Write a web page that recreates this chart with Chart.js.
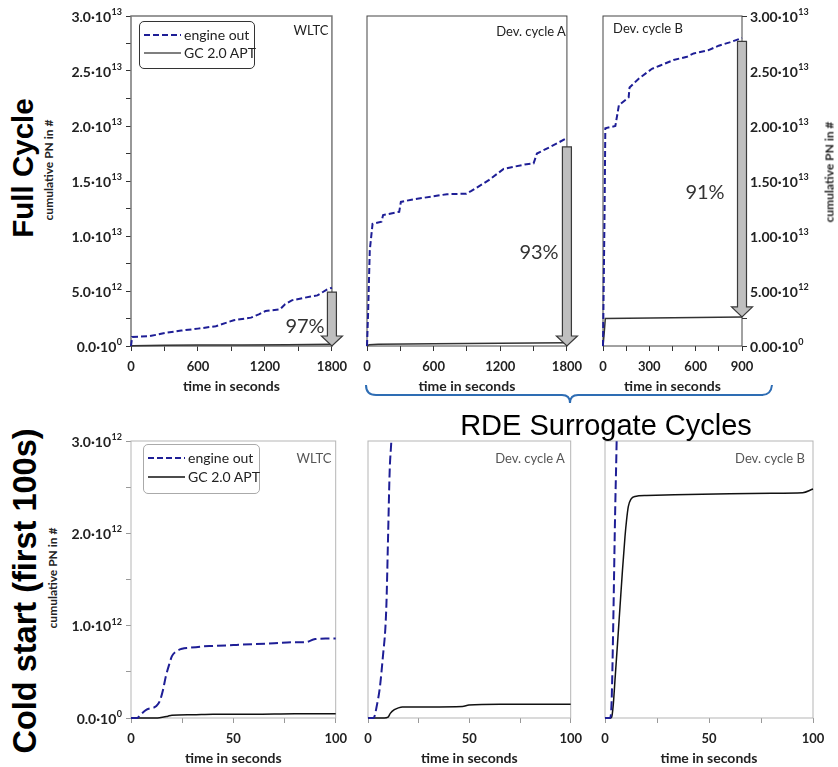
<!DOCTYPE html>
<html>
<head>
<meta charset="utf-8">
<script src="https://cdn.jsdelivr.net/npm/chart.js@4/dist/chart.umd.min.js"></script>
<style>
  body { margin: 0; background: #fff; width: 838px; height: 767px; position: relative; overflow: hidden;
         font-family: Lato, "Open Sans", sans-serif; }
  canvas { position: absolute; }
  .t { position: absolute; white-space: nowrap; transform: translate(-50%, -50%); color: #222; }
  .rot { transform: translate(-50%, -50%) rotate(-90deg); }
  .row-title { font-family: "Liberation Sans", Arial, sans-serif; font-weight: bold; font-size: 29.5px; color: #000; }
  .axis-title { font-weight: bold; font-size: 12px; color: #222; }
  .pct { font-size: 20px; color: #333; }
  .lbl { font-size: 13px; }
  .legend { position: absolute; border: 1px solid #333; border-radius: 5px; background: #fff; }
  .legend .item { position: absolute; left: 4px; height: 16px; font-size: 14px; line-height: 16px; color: #222; white-space: nowrap; }
  .legend svg { vertical-align: middle; margin-right: 3px; }
  .legend span { vertical-align: middle; }
</style>
</head>
<body>
<svg style="position:absolute;left:0;top:0" width="838" height="767">
  <path d="M366,385 Q366,395 376,395 L562,395 Q570,395 570,403 Q570,395 578,395 L762,395 Q771,395 772,385"
        fill="none" stroke="#2e6db4" stroke-width="2"/>
</svg>
<script>
// ---- data (PN values in #, time in s) ----
const seriesNames = ['engine out', 'GC 2.0 APT'];

// Full cycle
const wltcFullTime   = [0, 10, 170, 310, 450, 600, 760, 850, 920, 1075, 1150, 1205, 1335, 1380, 1440, 1610, 1670, 1750, 1800];
const wltcFullEngine = [0, 0.82e12, 0.9e12, 1.2e12, 1.4e12, 1.58e12, 1.8e12, 2.1e12, 2.34e12, 2.58e12, 2.9e12, 3.18e12, 3.34e12, 3.8e12, 4.15e12, 4.5e12, 4.6e12, 5.1e12, 5.3e12];
const wltcFullGCTime = [0, 20, 300, 600, 1000, 1400, 1800];
const wltcFullGC     = [0, 0.03e12, 0.06e12, 0.08e12, 0.1e12, 0.12e12, 0.16e12];

const devAFullTime   = [0, 10, 25, 50, 130, 145, 290, 305, 400, 720, 895, 940, 1100, 1230, 1420, 1500, 1530, 1650, 1800];
const devAFullEngine = [0, 3e12, 8.7e12, 11.1e12, 11.3e12, 11.9e12, 12.2e12, 13.1e12, 13.3e12, 13.8e12, 13.85e12, 14.1e12, 15.1e12, 16.1e12, 16.5e12, 16.6e12, 17.5e12, 18.1e12, 18.9e12];
const devAFullGCTime = [0, 20, 100, 600, 1200, 1800];
const devAFullGC     = [0, 0.12e12, 0.15e12, 0.2e12, 0.25e12, 0.3e12];

const devBFullTime   = [0, 10, 15, 80, 103, 166, 172, 231, 317, 371, 457, 544, 587, 684, 749, 820, 900];
const devBFullEngine = [0, 12e12, 19.8e12, 20.0e12, 21.9e12, 22.6e12, 23.5e12, 24.3e12, 25.2e12, 25.5e12, 26.0e12, 26.3e12, 26.6e12, 26.9e12, 27.3e12, 27.6e12, 28.0e12];
const devBFullGCTime = [0, 8, 15, 900];
const devBFullGC     = [0, 1.2e12, 2.5e12, 2.64e12];

// Cold start (first 100 s)
const wltcColdTime   = [0, 3, 4.4, 7.6, 12.4, 14, 15.6, 17, 18.8, 20, 22, 25, 28.3, 35, 40, 50, 60, 70, 80, 85, 90, 95, 100];
const wltcColdEngine = [0, 0, 0.03e12, 0.09e12, 0.13e12, 0.18e12, 0.3e12, 0.45e12, 0.59e12, 0.67e12, 0.72e12, 0.75e12, 0.76e12, 0.775e12, 0.78e12, 0.79e12, 0.8e12, 0.81e12, 0.82e12, 0.82e12, 0.855e12, 0.86e12, 0.86e12];
const wltcColdGCTime = [0, 13, 16, 18, 20, 30, 40, 60, 80, 100];
const wltcColdGC     = [0, 0, 0.01e12, 0.02e12, 0.03e12, 0.035e12, 0.04e12, 0.04e12, 0.045e12, 0.045e12];

const devAColdTime   = [0, 2.7, 4.5, 5.9, 7.5, 8.5, 9.1, 9.9, 10.7, 11.5, 12.5];
const devAColdEngine = [0, 0, 0.15e12, 0.34e12, 0.7e12, 0.95e12, 1.24e12, 1.96e12, 2.68e12, 3.0e12, 3.6e12];
const devAColdGCTime = [0, 8, 9.9, 11, 13, 15, 17, 30, 46.6, 49.8, 65, 100];
const devAColdGC     = [0, 0, 0.01e12, 0.05e12, 0.09e12, 0.11e12, 0.12e12, 0.12e12, 0.125e12, 0.14e12, 0.15e12, 0.15e12];

const devBColdTime   = [0, 2.4, 3.2, 4, 4.8, 5.6, 6.5];
const devBColdEngine = [0, 0, 0.19e12, 1.06e12, 2.14e12, 3.0e12, 4.2e12];
const devBColdGCTime = [0, 2.5, 3.2, 4.0, 4.8, 6, 7.2, 8.4, 9.6, 10.4, 11.2, 12.5, 14.4, 20, 40, 60, 80, 95, 100];
const devBColdGC     = [0, 0, 0.01e12, 0.15e12, 0.41e12, 0.8e12, 1.2e12, 1.6e12, 1.96e12, 2.15e12, 2.29e12, 2.37e12, 2.4e12, 2.41e12, 2.42e12, 2.43e12, 2.435e12, 2.44e12, 2.48e12];

// reduction arrows (from engine-out level down to GC level)
const arrowFrom = [4.9e12, 18.1e12, 27.7e12];
const arrowTo   = [0, 0, 2.64e12];
const reductionLabels = ['97%', '93%', '91%'];

// ---- helpers ----
// split a value into mantissa text ("3.0·10") and exponent text ("13")
function sciParts(v, digits) {
  if (Math.abs(v) < 1) return [(0).toFixed(digits) + '·10', '0'];
  const e = Math.floor(Math.log10(v) + 1e-9);
  return [(v / Math.pow(10, e)).toFixed(digits) + '·10', String(e)];
}
const isMult = (v, step) => Math.abs(v / step - Math.round(v / step)) < 1e-6;
const pts = (xs, ys) => xs.map((x, i) => ({ x, y: ys[i] }));

const framePlugin = {
  id: 'frame',
  beforeDatasetsDraw(chart, args, opts) {
    const a = chart.chartArea, ctx = chart.ctx;
    ctx.save();
    ctx.strokeStyle = opts.color;
    ctx.lineWidth = opts.width;
    ctx.strokeRect(a.left, a.top, a.right - a.left, a.bottom - a.top);
    ctx.restore();
  }
};

const arrowPlugin = {
  id: 'arrow',
  afterDatasetsDraw(chart, args, opts) {
    if (!opts || opts.from == null) return;
    const ctx = chart.ctx;
    const px = chart.scales.x.getPixelForValue(opts.x);
    const yTop = chart.scales.y.getPixelForValue(opts.from);
    const tip = chart.scales.y.getPixelForValue(opts.to);
    const sw = 4.5, hw = 10.5, hh = 10;
    ctx.save();
    ctx.beginPath();
    ctx.moveTo(px - sw, yTop);
    ctx.lineTo(px + sw, yTop);
    ctx.lineTo(px + sw, tip - hh);
    ctx.lineTo(px + hw, tip - hh);
    ctx.lineTo(px, tip);
    ctx.lineTo(px - hw, tip - hh);
    ctx.lineTo(px - sw, tip - hh);
    ctx.closePath();
    ctx.fillStyle = '#bfbfbf';
    ctx.fill();
    ctx.strokeStyle = '#3a3a3a';
    ctx.lineWidth = 1.2;
    ctx.stroke();
    ctx.restore();
  }
};

// y tick labels in "m·10^e" form with a raised exponent
const sciTickPlugin = {
  id: 'sciTicks',
  afterDraw(chart, args, o) {
    if (!o || !o.step) return;
    const s = chart.scales.y, ctx = chart.ctx;
    const big = 'bold 14px Lato, "Open Sans", sans-serif';
    const small = 'bold 9px Lato, "Open Sans", sans-serif';
    ctx.save();
    ctx.fillStyle = '#222';
    ctx.textBaseline = 'middle';
    ctx.textAlign = 'left';
    s.ticks.forEach(t => {
      if (!isMult(t.value, o.step)) return;
      const [m, e] = sciParts(t.value, o.digits);
      const y = s.getPixelForValue(t.value);
      ctx.font = big;
      const mw = ctx.measureText(m).width;
      ctx.font = small;
      const ew = ctx.measureText(e).width;
      const x0 = o.right ? s.left + 8 : s.right - 9 - mw - ew - 0.5;
      ctx.font = big;
      ctx.fillText(m, x0, y + 1);
      ctx.font = small;
      ctx.fillText(e, x0 + mw + 0.5, y - 4);
    });
    ctx.restore();
  }
};

Chart.defaults.font.family = 'Lato, "Open Sans", sans-serif';

function buildPanel(p) {
  const [cx, cy, cw, ch] = p.box;
  const [L, T, R, B] = p.area;
  const canvas = document.createElement('canvas');
  canvas.width = cw; canvas.height = ch;
  canvas.style.left = cx + 'px'; canvas.style.top = cy + 'px';
  document.body.appendChild(canvas);

  const right = p.yPos === 'right';
  const yWidth = right ? cx + cw - R : L - cx;
  const xHeight = cy + ch - B;
  const clip = { left: 2, top: 0, right: 2, bottom: 2 };

  new Chart(canvas, {
    type: 'line',
    data: {
      datasets: [
        {
          label: seriesNames[0], data: pts(p.engine[0], p.engine[1]),
          borderColor: '#1e1e96', borderWidth: 2, borderDash: p.dash,
          pointRadius: 0, fill: false, clip,
          cubicInterpolationMode: p.smooth ? 'monotone' : 'default', tension: 0
        },
        {
          label: seriesNames[1], data: pts(p.gc[0], p.gc[1]),
          borderColor: p.gcColor, borderWidth: 1.5,
          pointRadius: 0, fill: false, clip,
          cubicInterpolationMode: p.smooth ? 'monotone' : 'default', tension: 0
        }
      ]
    },
    options: {
      responsive: false,
      animation: false,
      devicePixelRatio: 1,
      layout: { padding: { top: T - cy, bottom: 0, left: right ? L - cx : 0, right: right ? 0 : cx + cw - R } },
      plugins: {
        legend: { display: false },
        tooltip: { enabled: false },
        frame: { color: p.frame, width: p.frameWidth },
        arrow: p.arrow || {},
        sciTicks: p.yLabels ? { step: p.yLabelStep, digits: p.yDigits, right } : {}
      },
      scales: {
        x: {
          type: 'linear', min: 0, max: p.xMax,
          afterFit: s => { s.height = xHeight; },
          border: { display: false },
          grid: { drawOnChartArea: false, drawTicks: true, tickLength: 5, tickColor: p.tickColor },
          ticks: {
            stepSize: p.xStep, autoSkip: false, maxRotation: 0, padding: 8,
            color: '#222', font: { size: 13, weight: 'bold' },
            callback: v => isMult(v, p.xLabelStep) ? String(v) : ''
          },
          title: { display: true, text: 'time in seconds', color: '#222',
                   font: { size: 14, weight: 'bold' }, padding: { top: 0, bottom: p.titlePad } }
        },
        y: {
          type: 'linear', min: 0, max: p.yMax, position: right ? 'right' : 'left',
          afterFit: s => { s.width = yWidth; },
          border: { display: false },
          grid: { display: p.yLabels, drawOnChartArea: false, drawTicks: true, tickLength: 5, tickColor: p.tickColor },
          ticks: { display: false, stepSize: p.yStep, autoSkip: false }
        }
      }
    },
    plugins: [framePlugin, arrowPlugin, sciTickPlugin]
  });
}

const topRow = { yMax: 3e13, yStep: 2.5e12, yLabelStep: 5e12, dash: [6, 3], smooth: false,
                 tickColor: '#333', frame: '#444', frameWidth: 1, gcColor: '#333', titlePad: 5 };
const bottomRow = { xMax: 100, xStep: 25, xLabelStep: 50, yMax: 3e12, yStep: 0.5e12, yLabelStep: 1e12, yDigits: 1,
                    dash: [9, 4], smooth: true, tickColor: '#999', frame: '#b5b5b5', frameWidth: 1, gcColor: '#111', titlePad: 0 };

buildPanel(Object.assign({}, topRow, {
  box: [60, 0, 295, 400], area: [131, 16, 339, 346], xMax: 1800, xStep: 300, xLabelStep: 600,
  yPos: 'left', yLabels: true, yDigits: 1, frame: '#777', frameWidth: 1.5,
  engine: [wltcFullTime, wltcFullEngine], gc: [wltcFullGCTime, wltcFullGC],
  arrow: { x: 1800, from: arrowFrom[0], to: arrowTo[0] }
}));
buildPanel(Object.assign({}, topRow, {
  box: [350, 0, 240, 400], area: [367, 16, 574, 346], xMax: 1800, xStep: 300, xLabelStep: 600,
  yPos: 'left', yLabels: false, yDigits: 1,
  engine: [devAFullTime, devAFullEngine], gc: [devAFullGCTime, devAFullGC],
  arrow: { x: 1800, from: arrowFrom[1], to: arrowTo[1] }
}));
buildPanel(Object.assign({}, topRow, {
  box: [590, 0, 248, 400], area: [603, 16, 742, 346], xMax: 900, xStep: 150, xLabelStep: 300,
  yPos: 'right', yLabels: true, yDigits: 2,
  engine: [devBFullTime, devBFullEngine], gc: [devBFullGCTime, devBFullGC],
  arrow: { x: 900, from: arrowFrom[2], to: arrowTo[2] }
}));
buildPanel(Object.assign({}, bottomRow, {
  box: [60, 425, 295, 342], area: [131, 441, 340, 718], yPos: 'left', yLabels: true,
  engine: [wltcColdTime, wltcColdEngine], gc: [wltcColdGCTime, wltcColdGC]
}));
buildPanel(Object.assign({}, bottomRow, {
  box: [352, 425, 238, 342], area: [368, 441, 576, 718], yPos: 'left', yLabels: false,
  engine: [devAColdTime, devAColdEngine], gc: [devAColdGCTime, devAColdGC]
}));
buildPanel(Object.assign({}, bottomRow, {
  box: [590, 425, 248, 342], area: [605, 441, 813, 718], yPos: 'left', yLabels: false,
  engine: [devBColdTime, devBColdEngine], gc: [devBColdGCTime, devBColdGC]
}));

// ---- text overlays ----
function addText(txt, cls, x, y, extra) {
  const d = document.createElement('div');
  d.className = 't ' + cls;
  d.style.left = x + 'px'; d.style.top = y + 'px';
  if (extra) Object.assign(d.style, extra);
  d.textContent = txt;
  document.body.appendChild(d);
  return d;
}
addText('Full Cycle', 'row-title rot', 23, 168);
addText('Cold start (first 100s)', 'row-title rot', 25, 591, { fontSize: '32.5px' });
addText('cumulative PN in #', 'axis-title rot', 48, 170);
addText('cumulative PN in #', 'axis-title rot', 52, 578);
addText('cumulative PN in #', 'axis-title rot', 829, 172);
addText('RDE Surrogate Cycles', '', 606, 425,
        { fontFamily: '"Liberation Sans", Arial, sans-serif', fontSize: '29px', color: '#000' });

addText('WLTC', 'lbl', 311, 30);
addText('Dev. cycle A', 'lbl', 531, 31);
addText('Dev. cycle B', 'lbl', 648, 28);
addText('WLTC', 'lbl', 314, 458, { color: '#555' });
addText('Dev. cycle A', 'lbl', 530, 458, { color: '#555' });
addText('Dev. cycle B', 'lbl', 770, 458, { color: '#555' });

addText(reductionLabels[0], 'pct', 305, 325);
addText(reductionLabels[1], 'pct', 539, 251);
addText(reductionLabels[2], 'pct', 705, 191);

function addLegend(x, y, w, h, border, gcColor, rows) {
  const box = document.createElement('div');
  box.className = 'legend';
  Object.assign(box.style, { left: x + 'px', top: y + 'px', width: w + 'px', height: h + 'px', borderColor: border });
  const styles = [
    { color: '#1e1e96', dash: '6,3' },
    { color: gcColor, dash: '' }
  ];
  seriesNames.forEach((name, i) => {
    const it = document.createElement('div');
    it.className = 'item';
    it.style.top = (rows[i] - 8) + 'px';
    it.innerHTML = '<svg width="37" height="4"><line x1="0" y1="2" x2="37" y2="2" stroke="' + styles[i].color +
      '" stroke-width="' + (i === 0 ? 2 : 1.3) + '"' + (styles[i].dash ? ' stroke-dasharray="' + styles[i].dash + '"' : '') +
      '/></svg><span></span>';
    it.querySelector('span').textContent = name;
    box.appendChild(it);
  });
  document.body.appendChild(box);
}
addLegend(139, 21, 114, 46, '#333', '#555', [12, 30]);
addLegend(143, 444, 115, 48, '#aaa', '#111', [12, 31]);
</script>
</body>
</html>
